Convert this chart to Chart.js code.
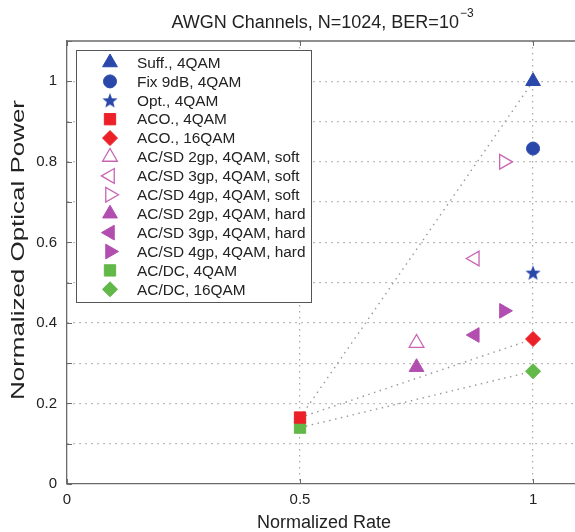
<!DOCTYPE html>
<html>
<head>
<meta charset="utf-8">
<script src="https://cdn.jsdelivr.net/npm/chart.js@4/dist/chart.umd.min.js"></script>
<style>
  body { margin: 0; background: #fff; }
  canvas { display: block; }
</style>
</head>
<body>
<canvas id="rate-chart" width="575" height="532"></canvas>
<script>
// values
let seriesLabels = [
  "Suff., 4QAM",
  "Fix 9dB, 4QAM",
  "Opt., 4QAM",
  "ACO., 4QAM",
  "ACO., 16QAM",
  "AC/SD 2gp, 4QAM, soft",
  "AC/SD 3gp, 4QAM, soft",
  "AC/SD 4gp, 4QAM, soft",
  "AC/SD 2gp, 4QAM, hard",
  "AC/SD 3gp, 4QAM, hard",
  "AC/SD 4gp, 4QAM, hard",
  "AC/DC, 4QAM",
  "AC/DC, 16QAM",
];
let rateValues = [1, 1, 1, 0.5, 1, 0.75, 0.875, 0.9375, 0.75, 0.875, 0.9375, 0.5, 1];
let powerValues = [1.0, 0.833, 0.525, 0.165, 0.36, 0.35, 0.56, 0.8, 0.29, 0.37, 0.43, 0.14, 0.28];
// dotted lines join these series (from, to)
let trendLinks = [[3, 0], [3, 4], [11, 12]];
let xTickValues = [0, 0.5, 1];
let yTickValues = [0, 0.1, 0.2, 0.3, 0.4, 0.5, 0.6, 0.7, 0.8, 0.9, 1.0, 1.1];

let blue = "rgb(42, 72, 170)";
let red = "rgb(236, 32, 40)";
let purple = "rgb(178, 78, 176)";
let pink = "rgb(200, 100, 180)";
let green = "rgb(98, 184, 72)";

// filled five point star, chart.js only has an asterisk
function makeStar(size, color) {
  let c = document.createElement("canvas");
  c.width = size;
  c.height = size;
  let g = c.getContext("2d");
  let cx = size / 2, cy = size / 2 + 0.8, R = size / 2, r = R * 0.42;
  g.beginPath();
  for (let i = 0; i < 10; i++) {
    let a = -Math.PI / 2 + (i * Math.PI) / 5;
    let rr = i % 2 === 0 ? R : r;
    g.lineTo(cx + rr * Math.cos(a), cy + rr * Math.sin(a));
  }
  g.closePath();
  g.fillStyle = color;
  g.fill();
  return c;
}
let starImg = makeStar(16, blue);

let markerStyles = [
  { pointStyle: "triangle", rotation: 0, radius: 8.5, fill: blue, stroke: blue },
  { pointStyle: "circle", rotation: 0, radius: 6.5, fill: blue, stroke: blue },
  { pointStyle: starImg, rotation: 0, radius: 8, fill: blue, stroke: blue },
  { pointStyle: "rect", rotation: 0, radius: 8, fill: red, stroke: red },
  { pointStyle: "rectRot", rotation: 0, radius: 7.5, fill: red, stroke: red },
  { pointStyle: "triangle", rotation: 0, radius: 8.5, fill: "#fff", stroke: pink },
  { pointStyle: "triangle", rotation: 270, radius: 8.5, fill: "#fff", stroke: pink },
  { pointStyle: "triangle", rotation: 90, radius: 8.5, fill: "#fff", stroke: pink },
  { pointStyle: "triangle", rotation: 0, radius: 8.5, fill: purple, stroke: purple },
  { pointStyle: "triangle", rotation: 270, radius: 8.5, fill: purple, stroke: purple },
  { pointStyle: "triangle", rotation: 90, radius: 8.5, fill: purple, stroke: purple },
  { pointStyle: "rect", rotation: 0, radius: 8, fill: green, stroke: green },
  { pointStyle: "rectRot", rotation: 0, radius: 7.5, fill: green, stroke: green },
];

let datasets = seriesLabels.map((label, i) => ({
  label: label,
  data: [{ x: rateValues[i], y: powerValues[i] }],
  pointStyle: markerStyles[i].pointStyle,
  rotation: markerStyles[i].rotation,
  pointRadius: markerStyles[i].radius,
  pointHoverRadius: markerStyles[i].radius,
  backgroundColor: markerStyles[i].fill,
  borderColor: markerStyles[i].stroke,
  borderWidth: markerStyles[i].fill === "#fff" ? 1.3 : 1,
  showLine: false,
}));

trendLinks.forEach(([a, b]) => {
  datasets.push({
    label: "",
    isTrend: true,
    data: [
      { x: rateValues[a], y: powerValues[a] },
      { x: rateValues[b], y: powerValues[b] },
    ],
    showLine: true,
    borderColor: "#9a9a9a",
    borderWidth: 1.4,
    borderDash: [1.5, 4.5],
    pointRadius: 0,
    fill: false,
  });
});

let font = "'Liberation Sans', Arial, sans-serif";

// matlab style box, inward ticks, titles and legend inside the axes
let figureDecor = {
  id: "figureDecor",
  afterDraw(chart) {
    let ctx = chart.ctx;
    let area = chart.chartArea;
    let xs = chart.scales.x;
    let ys = chart.scales.y;
    ctx.save();

    ctx.strokeStyle = "#6a6a6a";
    ctx.lineWidth = 1.3;
    ctx.beginPath();
    ctx.moveTo(area.left, area.top);
    ctx.lineTo(area.right + 2, area.top);
    ctx.stroke();

    ctx.lineWidth = 1;
    ctx.beginPath();
    yTickValues.forEach((v) => {
      let py = Math.round(ys.getPixelForValue(v)) + 0.5;
      ctx.moveTo(area.left, py);
      ctx.lineTo(area.left + 5, py);
    });
    xTickValues.forEach((v) => {
      let px = Math.round(xs.getPixelForValue(v)) + 0.5;
      ctx.moveTo(px, area.bottom);
      ctx.lineTo(px, area.bottom - 5);
      ctx.moveTo(px, area.top);
      ctx.lineTo(px, area.top + 5);
    });
    ctx.stroke();

    // title with superscript exponent
    ctx.fillStyle = "#222";
    ctx.textBaseline = "alphabetic";
    ctx.textAlign = "left";
    let main = "AWGN Channels, N=1024, BER=10";
    let sup = "\u22123";
    ctx.font = "18px " + font;
    let wMain = ctx.measureText(main).width;
    ctx.font = "12px " + font;
    let wSup = ctx.measureText(sup).width;
    let x0 = 322 - (wMain + wSup) / 2;
    ctx.font = "18px " + font;
    ctx.fillText(main, x0, 28);
    ctx.font = "12px " + font;
    ctx.fillText(sup, x0 + wMain + 1, 17);

    // axis titles; the y label in the figure runs long
    ctx.font = "18px " + font;
    ctx.textAlign = "center";
    ctx.fillText("Normalized Rate", 324, 528);
    ctx.save();
    let yLabel = "Normalized Optical Power";
    ctx.font = "19px " + font;
    let stretch = 300 / ctx.measureText(yLabel).width;
    ctx.translate(24, 250);
    ctx.rotate(-Math.PI / 2);
    ctx.scale(stretch, 1);
    ctx.fillText(yLabel, 0, 0);
    ctx.restore();

    // legend
    let box = { left: 76, top: 50, right: 311, bottom: 302 };
    ctx.fillStyle = "#fff";
    ctx.fillRect(box.left, box.top, box.right - box.left, box.bottom - box.top);
    ctx.strokeStyle = "#555";
    ctx.lineWidth = 1;
    ctx.strokeRect(box.left + 0.5, box.top + 0.5, box.right - box.left, box.bottom - box.top);

    ctx.font = "15.4px " + font;
    ctx.textAlign = "left";
    ctx.textBaseline = "middle";
    chart.data.datasets.forEach((ds, i) => {
      if (ds.isTrend) return;
      let rowY = 62.5 + i * 18.9;
      ctx.fillStyle = ds.backgroundColor;
      ctx.strokeStyle = ds.borderColor;
      ctx.lineWidth = ds.borderWidth;
      Chart.helpers.drawPoint(ctx, {
        pointStyle: ds.pointStyle,
        rotation: ds.rotation,
        radius: ds.pointRadius,
        borderWidth: ds.borderWidth,
      }, 110, rowY);
      ctx.fillStyle = "#222";
      ctx.fillText(ds.label, 137, rowY + 1);
    });

    ctx.restore();
  },
};

new Chart(document.getElementById("rate-chart").getContext("2d"), {
  type: "scatter",
  data: { datasets: datasets },
  options: {
    responsive: false,
    animation: false,
    layout: { autoPadding: false, padding: { top: 41, left: 0, right: 0, bottom: 0 } },
    plugins: {
      legend: { display: false },
      title: { display: false },
      tooltip: { enabled: false },
    },
    scales: {
      x: {
        type: "linear",
        min: 0,
        max: 1.09,
        afterBuildTicks: (scale) => {
          scale.ticks = xTickValues.map((v) => ({ value: v }));
        },
        afterFit: (scale) => {
          scale.height = 48;
          scale.paddingLeft = 0;
          scale.paddingRight = 0;
        },
        ticks: {
          color: "#222",
          font: { size: 15, family: font },
          padding: 7,
          maxRotation: 0,
          callback: (v) => String(v),
        },
        grid: {
          color: (c) => (c.tick && c.tick.value === 0 ? "rgba(0,0,0,0)" : "#a8a8a8"),
          lineWidth: 1.2,
          drawTicks: false,
        },
        border: { display: true, color: "#6a6a6a", width: 1.3, dash: [1.5, 4.5] },
      },
      y: {
        type: "linear",
        min: 0,
        max: 1.1,
        afterBuildTicks: (scale) => {
          scale.ticks = yTickValues.map((v) => ({ value: v }));
        },
        afterFit: (scale) => {
          scale.width = 67;
          scale.paddingTop = 0;
          scale.paddingBottom = 0;
        },
        ticks: {
          color: "#222",
          font: { size: 15, family: font },
          padding: 10,
          callback: (v) => {
            let n = Math.round(v * 10);
            return n % 2 === 0 && n <= 10 ? String(n / 10) : "";
          },
        },
        grid: {
          color: (c) => (c.tick && (c.tick.value === 0 || c.tick.value > 1.05) ? "rgba(0,0,0,0)" : "#a8a8a8"),
          lineWidth: 1.2,
          drawTicks: false,
        },
        border: { display: true, color: "#6a6a6a", width: 1.3, dash: [1.5, 4.5] },
      },
    },
  },
  plugins: [figureDecor],
});
</script>
</body>
</html>
